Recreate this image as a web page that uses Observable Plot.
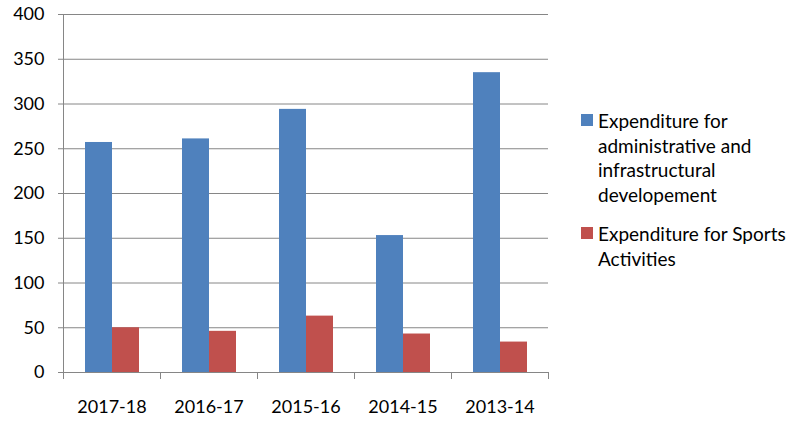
<!DOCTYPE html>
<html><head><meta charset="utf-8">
<script src="https://cdn.jsdelivr.net/npm/d3@7"></script>
<script src="https://cdn.jsdelivr.net/npm/@observablehq/plot@0.6"></script>
<style>
body{margin:0;background:#fff;font-family:Lato,sans-serif;}
#wrap{position:relative;width:798px;height:428px;overflow:hidden;}
#wrap svg{position:absolute;left:0;top:0;}
.item{position:absolute;left:581px;white-space:nowrap;font-size:19px;line-height:24.5px;color:#000;}
.sw{position:absolute;left:0;width:12px;height:12px;}
.txt{position:absolute;left:17px;top:0;}
</style></head><body><div id="wrap"></div>
<script>
const years = ["2017-18", "2016-17", "2015-16", "2014-15", "2013-14"];
const adminExp = [257, 261, 294, 153, 335];
const sportsExp = [50, 46, 63, 43, 34];
const seriesNames = ["Expenditure for administrative and infrastructural developement", "Expenditure for Sports Activities"];
const legendLines = [["Expenditure for", "administrative and", "infrastructural", "developement"], ["Expenditure for Sports", "Activities"]];
const yTicks = [0, 50, 100, 150, 200, 250, 300, 350, 400];
const colors = ["#4F81BD", "#C0504D"];

const data = years.flatMap((yr, i) => [
  {year: yr, series: seriesNames[0], value: adminExp[i]},
  {year: yr, series: seriesNames[1], value: sportsExp[i]}
]);

const gray = "#868686";
const plot = Plot.plot({
  width: 560, height: 428,
  marginLeft: 62, marginRight: 11, marginTop: 14, marginBottom: 56,
  style: {fontFamily: "Lato, sans-serif", fontSize: "18px", color: "#000", background: "#fff"},
  fx: {domain: years, padding: 0, label: null, axis: null},
  x: {domain: seriesNames, axis: null, paddingInner: 0, paddingOuter: 0.74},
  y: {domain: [0, 400], label: null, axis: null},
  color: {domain: seriesNames, range: colors},
  marks: [
    Plot.ruleY(yTicks, {stroke: gray, strokeWidth: 1}),
    Plot.barY(data, {fx: "year", x: "series", y: "value", fill: "series"}),
    Plot.frame({anchor: "left", facetAnchor: "left", stroke: gray, insetBottom: -6}),
    Plot.frame({anchor: "left", stroke: gray, insetTop: 358, insetBottom: -6}),
    Plot.frame({anchor: "right", facetAnchor: "right", stroke: gray, insetTop: 358, insetBottom: -6}),
    Plot.axisY({ticks: yTicks, tickSize: 5, tickPadding: 14, stroke: gray, label: null, fontSize: 18}),
    Plot.axisFx({anchor: "bottom", tickSize: 0, tickPadding: 28, label: null, fontSize: 18})
  ]
});
const wrap = document.getElementById("wrap");
wrap.appendChild(plot);

const tops = [109, 222];
legendLines.forEach((lines, k) => {
  const item = document.createElement("div");
  item.className = "item";
  item.style.top = tops[k] + "px";
  const sw = document.createElement("div");
  sw.className = "sw";
  sw.style.background = colors[k];
  sw.style.top = "5px";
  const txt = document.createElement("div");
  txt.className = "txt";
  txt.innerHTML = lines.join("<br>");
  item.appendChild(sw);
  item.appendChild(txt);
  wrap.appendChild(item);
});
</script></body></html>
